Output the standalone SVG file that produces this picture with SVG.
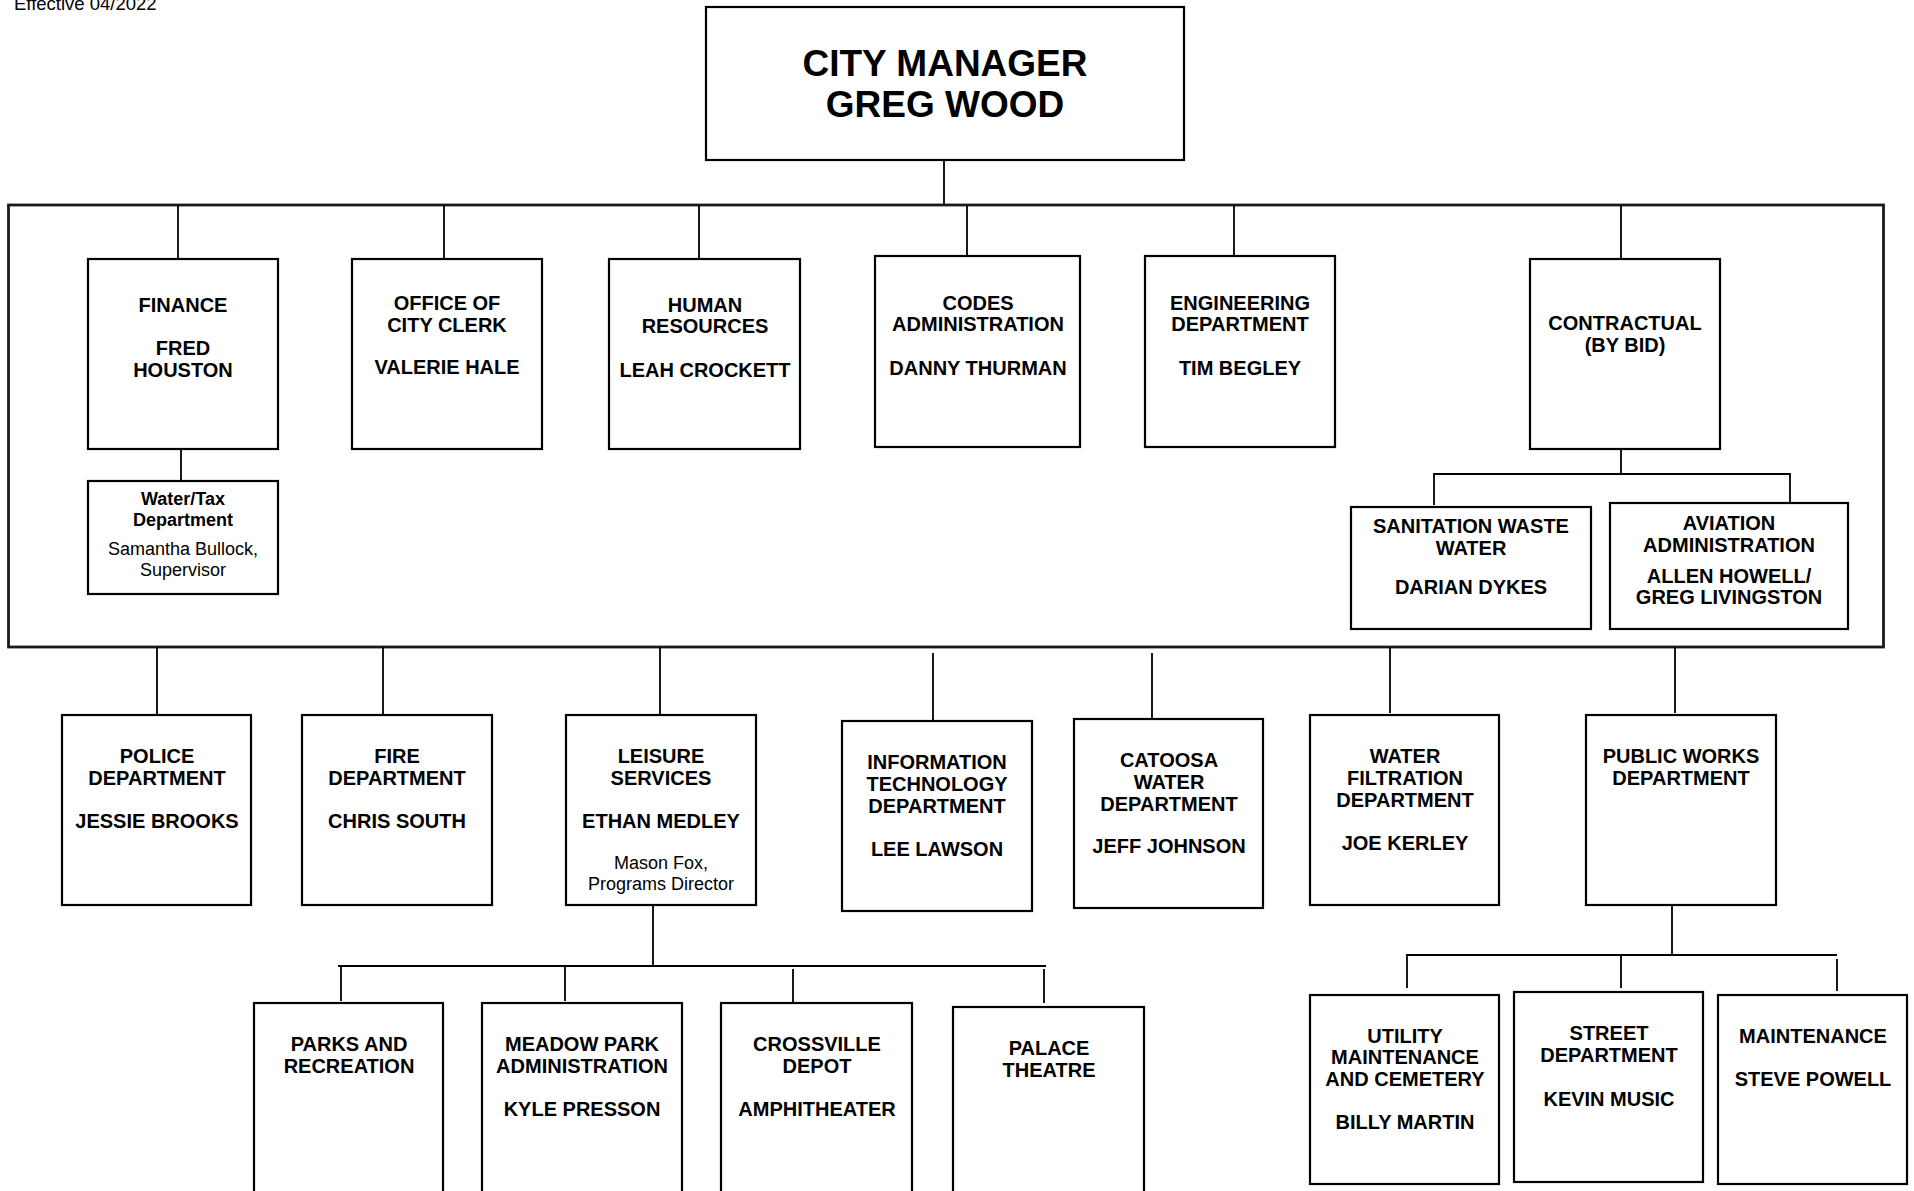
<svg xmlns="http://www.w3.org/2000/svg" width="1914" height="1191" viewBox="0 0 1914 1191">
<style>
.box{fill:#fff;stroke:#000;stroke-width:2.2}
.outer{fill:none;stroke:#1a1a1a;stroke-width:2.8}
.ln{stroke:#000;stroke-width:1.8;fill:none}
text{font-family:"Liberation Sans",Arial,sans-serif;text-anchor:middle;fill:#000}
.b{font-weight:bold;font-size:20px}
.s{font-size:18px}
.sb{font-weight:bold;font-size:18px}
.t{font-weight:bold;font-size:37px}
</style>
<rect width="1914" height="1191" fill="#fff"/>
<text x="14" y="10" style="text-anchor:start;font-size:18.5px">Effective 04/2022</text>
<g id="connectors">
<rect class="outer" x="8.5" y="205" width="1875" height="442"/>
<line class="ln" x1="944" y1="160" x2="944" y2="205"/>
<line class="ln" x1="178" y1="205" x2="178" y2="259"/>
<line class="ln" x1="444" y1="205" x2="444" y2="259"/>
<line class="ln" x1="699" y1="205" x2="699" y2="259"/>
<line class="ln" x1="967" y1="205" x2="967" y2="256"/>
<line class="ln" x1="1234" y1="205" x2="1234" y2="256"/>
<line class="ln" x1="1621" y1="205" x2="1621" y2="259"/>
<line class="ln" x1="181" y1="449" x2="181" y2="481"/>
<polyline class="ln" points="1621,449 1621,474"/>
<polyline class="ln" points="1434,505 1434,474 1790,474 1790,503"/>
<line class="ln" x1="157" y1="647" x2="157" y2="715"/>
<line class="ln" x1="383" y1="647" x2="383" y2="715"/>
<line class="ln" x1="660" y1="647" x2="660" y2="715"/>
<line class="ln" x1="933" y1="653" x2="933" y2="721"/>
<line class="ln" x1="1152" y1="653" x2="1152" y2="719"/>
<line class="ln" x1="1390" y1="647" x2="1390" y2="713"/>
<line class="ln" x1="1675" y1="647" x2="1675" y2="713"/>
<line class="ln" x1="653" y1="905" x2="653" y2="966"/>
<line class="ln" x1="338" y1="966" x2="1046" y2="966"/>
<line class="ln" x1="341" y1="966" x2="341" y2="1001"/>
<line class="ln" x1="565" y1="966" x2="565" y2="1001"/>
<line class="ln" x1="793" y1="969" x2="793" y2="1003"/>
<line class="ln" x1="1044" y1="969" x2="1044" y2="1003"/>
<line class="ln" x1="1672" y1="905" x2="1672" y2="955"/>
<line class="ln" x1="1406" y1="955" x2="1837" y2="955"/>
<line class="ln" x1="1407" y1="955" x2="1407" y2="988"/>
<line class="ln" x1="1621" y1="955" x2="1621" y2="988"/>
<line class="ln" x1="1837" y1="959" x2="1837" y2="991"/>
</g>
<g id="city-manager">
<rect class="box" x="706" y="7" width="478" height="153"/>
<text class="t" x="945" y="76">CITY MANAGER</text>
<text class="t" x="945" y="117">GREG WOOD</text>
</g>
<g id="finance">
<rect class="box" x="88" y="259" width="190" height="190"/>
<text class="b" x="183" y="312">FINANCE</text>
<text class="b" x="183" y="355">FRED</text>
<text class="b" x="183" y="377">HOUSTON</text>
</g>
<g id="water-tax">
<rect class="box" x="88" y="481" width="190" height="113"/>
<text class="sb" x="183" y="505">Water/Tax</text>
<text class="sb" x="183" y="526">Department</text>
<text class="s" x="183" y="555">Samantha Bullock,</text>
<text class="s" x="183" y="576">Supervisor</text>
</g>
<g id="city-clerk">
<rect class="box" x="352" y="259" width="190" height="190"/>
<text class="b" x="447" y="310">OFFICE OF</text>
<text class="b" x="447" y="332">CITY CLERK</text>
<text class="b" x="447" y="374">VALERIE HALE</text>
</g>
<g id="human-resources">
<rect class="box" x="609" y="259" width="191" height="190"/>
<text class="b" x="705" y="312">HUMAN</text>
<text class="b" x="705" y="333">RESOURCES</text>
<text class="b" x="705" y="377">LEAH CROCKETT</text>
</g>
<g id="codes">
<rect class="box" x="875" y="256" width="205" height="191"/>
<text class="b" x="978" y="310">CODES</text>
<text class="b" x="978" y="331">ADMINISTRATION</text>
<text class="b" x="978" y="375">DANNY THURMAN</text>
</g>
<g id="engineering">
<rect class="box" x="1145" y="256" width="190" height="191"/>
<text class="b" x="1240" y="310">ENGINEERING</text>
<text class="b" x="1240" y="331">DEPARTMENT</text>
<text class="b" x="1240" y="375">TIM BEGLEY</text>
</g>
<g id="contractual">
<rect class="box" x="1530" y="259" width="190" height="190"/>
<text class="b" x="1625" y="330">CONTRACTUAL</text>
<text class="b" x="1625" y="352">(BY BID)</text>
</g>
<g id="sanitation">
<rect class="box" x="1351" y="507" width="240" height="122"/>
<text class="b" x="1471" y="533">SANITATION WASTE</text>
<text class="b" x="1471" y="555">WATER</text>
<text class="b" x="1471" y="594">DARIAN DYKES</text>
</g>
<g id="aviation">
<rect class="box" x="1610" y="503" width="238" height="126"/>
<text class="b" x="1729" y="530">AVIATION</text>
<text class="b" x="1729" y="552">ADMINISTRATION</text>
<text class="b" x="1729" y="583">ALLEN HOWELL/</text>
<text class="b" x="1729" y="604">GREG LIVINGSTON</text>
</g>
<g id="police">
<rect class="box" x="62" y="715" width="189" height="190"/>
<text class="b" x="157" y="763">POLICE</text>
<text class="b" x="157" y="785">DEPARTMENT</text>
<text class="b" x="157" y="828">JESSIE BROOKS</text>
</g>
<g id="fire">
<rect class="box" x="302" y="715" width="190" height="190"/>
<text class="b" x="397" y="763">FIRE</text>
<text class="b" x="397" y="785">DEPARTMENT</text>
<text class="b" x="397" y="828">CHRIS SOUTH</text>
</g>
<g id="leisure">
<rect class="box" x="566" y="715" width="190" height="190"/>
<text class="b" x="661" y="763">LEISURE</text>
<text class="b" x="661" y="785">SERVICES</text>
<text class="b" x="661" y="828">ETHAN MEDLEY</text>
<text class="s" x="661" y="869">Mason Fox,</text>
<text class="s" x="661" y="890">Programs Director</text>
</g>
<g id="it">
<rect class="box" x="842" y="721" width="190" height="190"/>
<text class="b" x="937" y="769">INFORMATION</text>
<text class="b" x="937" y="791">TECHNOLOGY</text>
<text class="b" x="937" y="813">DEPARTMENT</text>
<text class="b" x="937" y="856">LEE LAWSON</text>
</g>
<g id="catoosa">
<rect class="box" x="1074" y="719" width="189" height="189"/>
<text class="b" x="1169" y="767">CATOOSA</text>
<text class="b" x="1169" y="789">WATER</text>
<text class="b" x="1169" y="811">DEPARTMENT</text>
<text class="b" x="1169" y="853">JEFF JOHNSON</text>
</g>
<g id="water-filtration">
<rect class="box" x="1310" y="715" width="189" height="190"/>
<text class="b" x="1405" y="763">WATER</text>
<text class="b" x="1405" y="785">FILTRATION</text>
<text class="b" x="1405" y="807">DEPARTMENT</text>
<text class="b" x="1405" y="850">JOE KERLEY</text>
</g>
<g id="public-works">
<rect class="box" x="1586" y="715" width="190" height="190"/>
<text class="b" x="1681" y="763">PUBLIC WORKS</text>
<text class="b" x="1681" y="785">DEPARTMENT</text>
</g>
<g id="parks">
<rect class="box" x="254" y="1003" width="189" height="200"/>
<text class="b" x="349" y="1051">PARKS AND</text>
<text class="b" x="349" y="1073">RECREATION</text>
</g>
<g id="meadow-park">
<rect class="box" x="482" y="1003" width="200" height="200"/>
<text class="b" x="582" y="1051">MEADOW PARK</text>
<text class="b" x="582" y="1073">ADMINISTRATION</text>
<text class="b" x="582" y="1116">KYLE PRESSON</text>
</g>
<g id="crossville">
<rect class="box" x="721" y="1003" width="191" height="200"/>
<text class="b" x="817" y="1051">CROSSVILLE</text>
<text class="b" x="817" y="1073">DEPOT</text>
<text class="b" x="817" y="1116">AMPHITHEATER</text>
</g>
<g id="palace">
<rect class="box" x="953" y="1007" width="191" height="200"/>
<text class="b" x="1049" y="1055">PALACE</text>
<text class="b" x="1049" y="1077">THEATRE</text>
</g>
<g id="utility">
<rect class="box" x="1310" y="995" width="189" height="189"/>
<text class="b" x="1405" y="1043">UTILITY</text>
<text class="b" x="1405" y="1064">MAINTENANCE</text>
<text class="b" x="1405" y="1086">AND CEMETERY</text>
<text class="b" x="1405" y="1129">BILLY MARTIN</text>
</g>
<g id="street">
<rect class="box" x="1514" y="992" width="189" height="190"/>
<text class="b" x="1609" y="1040">STREET</text>
<text class="b" x="1609" y="1062">DEPARTMENT</text>
<text class="b" x="1609" y="1106">KEVIN MUSIC</text>
</g>
<g id="maintenance">
<rect class="box" x="1718" y="995" width="189" height="189"/>
<text class="b" x="1813" y="1043">MAINTENANCE</text>
<text class="b" x="1813" y="1086">STEVE POWELL</text>
</g>
</svg>
